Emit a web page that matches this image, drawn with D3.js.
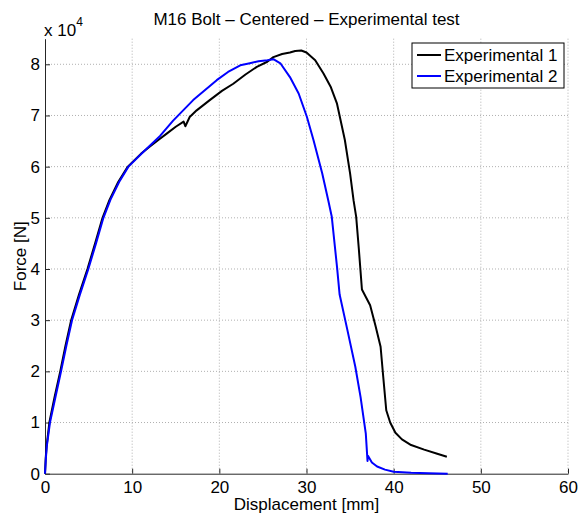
<!DOCTYPE html>
<html>
<head>
<meta charset="utf-8">
<script src="https://cdn.jsdelivr.net/npm/d3@7"></script>
<style>
  body { margin: 0; background: #fff; }
  svg { font-family: "Liberation Sans", Arial, sans-serif; }
  text { fill: #000; }
</style>
</head>
<body>
<div id="chart"></div>
<script>
// Experimental 1 (black) - displacement [mm], force [x 1e4 N]
const exp1X = [0, 0.08, 0.18, 0.5, 1.1, 1.75, 2.35, 3.0, 3.9, 4.87, 5.75, 6.6, 7.4, 8.4, 9.5, 11.0, 12.0, 13.0, 14.0, 15.0, 15.9, 16.1, 16.6, 17.4, 18.9, 20.3, 21.6, 23.0, 24.3, 25.5, 26.2, 27.2, 28.1, 28.7, 29.4, 30.0, 31.0, 31.95, 32.8, 33.5, 34.4, 35.0, 35.4, 35.7, 36.0, 36.36, 37.3, 37.9, 38.5, 38.8, 39.15, 39.6, 40.2, 40.95, 42.0, 43.5, 45.0, 46.1];
const exp1Y = [0, 0.3, 0.53, 1.0, 1.5, 2.0, 2.5, 3.0, 3.5, 4.0, 4.5, 5.0, 5.35, 5.7, 6.0, 6.25, 6.39, 6.52, 6.65, 6.78, 6.88, 6.79, 6.97, 7.10, 7.30, 7.48, 7.62, 7.80, 7.95, 8.05, 8.14, 8.20, 8.23, 8.26, 8.27, 8.23, 8.08, 7.82, 7.55, 7.23, 6.52, 5.87, 5.34, 5.02, 4.4, 3.60, 3.29, 2.9, 2.48, 1.9, 1.24, 1.0, 0.8, 0.67, 0.56, 0.47, 0.39, 0.33];

// Experimental 2 (blue)
const exp2X = [0, 0.1, 0.2, 0.57, 1.2, 1.84, 2.45, 3.1, 4.0, 4.97, 5.85, 6.7, 7.5, 8.5, 9.57, 11.3, 13.2, 14.7, 17.0, 19.7, 21.0, 22.4, 23.5, 24.5, 25.5, 26.2, 27.0, 28.1, 29.1, 30.05, 30.8, 31.8, 32.5, 32.9, 33.5, 33.8, 34.7, 35.6, 36.2, 36.8, 37.0, 37.05, 37.5, 38.1, 39.0, 40.0, 42.0, 44.0, 46.2];
const exp2Y = [0, 0.3, 0.53, 1.0, 1.5, 2.0, 2.5, 3.0, 3.5, 4.0, 4.5, 5.0, 5.35, 5.7, 6.0, 6.29, 6.6, 6.9, 7.30, 7.69, 7.85, 7.98, 8.02, 8.06, 8.08, 8.10, 8.02, 7.75, 7.43, 6.97, 6.52, 5.87, 5.34, 5.02, 4.04, 3.50, 2.8, 2.09, 1.5, 0.79, 0.25, 0.35, 0.22, 0.14, 0.08, 0.04, 0.02, 0.01, 0.0];

const xTicks = [0, 10, 20, 30, 40, 50, 60];
const yTicks = [0, 1, 2, 3, 4, 5, 6, 7, 8];
const seriesNames = ['Experimental 1', 'Experimental 2'];
const seriesColors = ['#000000', '#0000ff'];

const W = 580, H = 517;
const margin = { top: 38.7, right: 12, bottom: 43.3, left: 45 };
const pw = W - margin.left - margin.right;
const ph = H - margin.top - margin.bottom;
const fs = '17px';

const x = d3.scaleLinear().domain([0, 60]).range([0, pw]);
const y = d3.scaleLinear().domain([0, 8.5]).range([ph, 0]);

const svg = d3.select('#chart').append('svg')
  .attr('width', W).attr('height', H);

const g = svg.append('g')
  .attr('transform', `translate(${margin.left},${margin.top})`);

// Grid
g.append('g').selectAll('line')
  .data(xTicks.slice(1))
  .join('line')
  .attr('x1', d => x(d)).attr('x2', d => x(d))
  .attr('y1', 0).attr('y2', ph)
  .attr('stroke', '#b0b0b0').attr('stroke-dasharray', '1,2');

g.append('g').selectAll('line')
  .data(yTicks.slice(1))
  .join('line')
  .attr('x1', 0).attr('x2', pw)
  .attr('y1', d => y(d)).attr('y2', d => y(d))
  .attr('stroke', '#b0b0b0').attr('stroke-dasharray', '1,2');

// Axes
const xAxis = g.append('g')
  .attr('transform', `translate(0,${ph})`)
  .call(d3.axisBottom(x).tickValues(xTicks).tickSizeInner(-5).tickSizeOuter(0).tickPadding(7));
const yAxis = g.append('g')
  .call(d3.axisLeft(y).tickValues(yTicks).tickSizeInner(-5).tickSizeOuter(0).tickPadding(5));

[xAxis, yAxis].forEach(a => {
  a.select('.domain').attr('stroke', '#262626').attr('stroke-width', 1);
  a.selectAll('.tick line').attr('stroke', '#262626');
  a.selectAll('.tick text')
    .attr('fill', '#000')
    .style('font-size', fs)
    .style('font-family', '"Liberation Sans", Arial, sans-serif');
});

// Curves
const line = d3.line()
  .x(d => x(d[0]))
  .y(d => y(d[1]));

const series = [
  d3.zip(exp1X, exp1Y),
  d3.zip(exp2X, exp2Y)
];

series.forEach((pts, k) => {
  g.append('path')
    .datum(pts)
    .attr('fill', 'none')
    .attr('stroke', seriesColors[k])
    .attr('stroke-width', 2)
    .attr('stroke-linejoin', 'round')
    .attr('d', line);
});

// Title and labels
svg.append('text')
  .attr('x', margin.left + pw / 2).attr('y', 25)
  .attr('text-anchor', 'middle')
  .style('font-size', fs)
  .text('M16 Bolt \u2013 Centered \u2013 Experimental test');

const mult = svg.append('text')
  .attr('x', 44).attr('y', 36)
  .style('font-size', fs);
mult.append('tspan').text('x 10');
mult.append('tspan').attr('dy', -10).style('font-size', '12px').text('4');

svg.append('text')
  .attr('x', margin.left + pw / 2).attr('y', 510)
  .attr('text-anchor', 'middle')
  .style('font-size', fs)
  .text('Displacement [mm]');

svg.append('text')
  .attr('transform', `translate(26,${margin.top + ph / 2}) rotate(-90)`)
  .attr('text-anchor', 'middle')
  .attr('fill', '#000')
  .style('font-size', fs)
  .text('Force [N]');

// Legend
const legend = svg.append('g').attr('transform', 'translate(412,43)');
legend.append('rect')
  .attr('width', 152).attr('height', 45)
  .attr('fill', '#fff').attr('stroke', '#000');

seriesNames.forEach((name, k) => {
  const row = legend.append('g').attr('transform', `translate(0,${12 + k * 21})`);
  row.append('line')
    .attr('x1', 5).attr('x2', 29)
    .attr('stroke', seriesColors[k]).attr('stroke-width', 2);
  row.append('text')
    .attr('x', 32).attr('dy', '0.36em')
    .style('font-size', fs)
    .text(name);
});
</script>
</body>
</html>
